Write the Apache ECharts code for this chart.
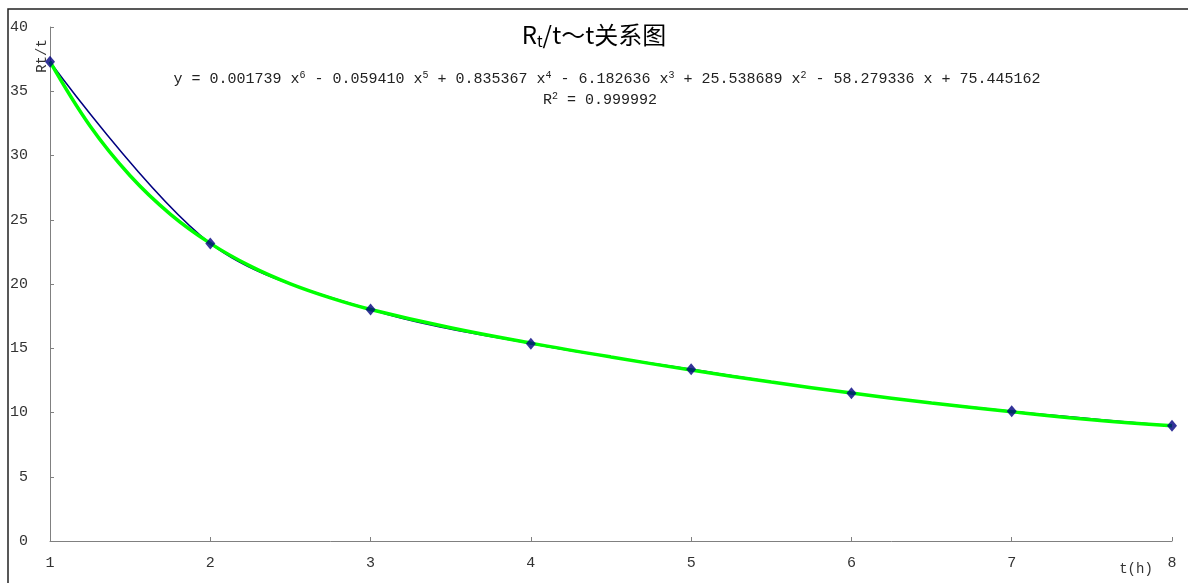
<!DOCTYPE html>
<html>
	<head>
		<meta charset="utf-8">
		<title>Rt/t~t</title>
		<style type="text/css">
			* {
				margin: 0;
				padding: 0;
			}

			html,
			body {
				width: 100%;
				height: 100%;
				background: #fff;
			}

			#box1 {
				width: 1188px;
				height: 583px;
			}
		</style>
	</head>
	<body>
		<div id="box1"></div>
		<script type="text/javascript" src="https://cdn.jsdelivr.net/npm/echarts@6/dist/echarts.min.js"></script>
		<script type="text/javascript">
			// measured points
			var tHours = [1, 2, 3, 4, 5, 6, 7, 8]
			var rtValues = [37.3, 23.16, 18.02, 15.35, 13.37, 11.5, 10.1, 8.97]

			// green trend line
			var trendT = [1, 1.25, 1.5, 1.75, 2, 2.25, 2.5, 2.75, 3, 3.5, 4, 4.5, 5, 5.5, 6, 6.5, 7, 7.5, 8]
			var trendValues = [37.3, 32.29, 28.42, 25.44, 23.16, 21.39, 20.01, 18.92, 18.02, 16.59, 15.4, 14.32, 13.31, 12.37, 11.51, 10.74, 10.05, 9.43, 8.96]

			var yTicks = [0, 5, 10, 15, 20, 25, 30, 35, 40]

			var monoFont = '"Liberation Mono", "DejaVu Sans Mono", monospace'
			var cjkFont = '"Noto Sans CJK SC", "Noto Sans", sans-serif'

			function pairs(xs, ys) {
				var out = []
				for (var i = 0; i < xs.length; i++) {
					out.push([xs[i], ys[i]])
				}
				return out
			}

			window.onload = function() {
				var myChart1 = echarts.init(document.getElementById('box1'))
				var option1 = {
					animation: false,
					backgroundColor: '#fff',
					title: {
						text: '{r|R}{s|t}{r|/t～t关系图}',
						left: 'center',
						top: 15,
						textStyle: {
							fontWeight: 'normal',
							rich: {
								r: {
									fontFamily: cjkFont,
									fontWeight: 'normal',
									fontSize: 24,
									color: '#000'
								},
								s: {
									fontFamily: cjkFont,
									fontWeight: 'normal',
									fontSize: 15,
									color: '#000',
									padding: [14, 0, 0, 0]
								}
							}
						}
					},
					grid: {
						left: 50,
						right: 16,
						top: 27,
						bottom: 42
					},
					xAxis: {
						type: 'value',
						min: 1,
						max: 8,
						interval: 1,
						axisLine: {
							lineStyle: {
								color: '#808080',
								width: 1
							}
						},
						axisTick: {
							inside: true,
							length: 4,
							lineStyle: {
								color: '#808080'
							}
						},
						splitLine: {
							show: false
						},
						axisLabel: {
							margin: 15,
							color: '#333',
							fontFamily: monoFont,
							fontSize: 15
						}
					},
					yAxis: {
						type: 'value',
						min: 0,
						max: 40,
						interval: 5,
						axisLine: {
							show: true,
							lineStyle: {
								color: '#808080',
								width: 1
							}
						},
						axisTick: {
							show: true,
							inside: true,
							length: 4,
							lineStyle: {
								color: '#808080'
							}
						},
						splitLine: {
							show: false
						},
						axisLabel: {
							margin: 22,
							color: '#333',
							fontFamily: monoFont,
							fontSize: 15,
							formatter: function(v) {
								return yTicks.indexOf(v) != -1 ? String(v) : ''
							}
						}
					},
					graphic: [{
							type: 'rect',
							shape: {
								x: 8,
								y: 9,
								width: 1300,
								height: 700
							},
							style: {
								fill: 'none',
								stroke: '#222',
								lineWidth: 1.5
							},
							z: -1
						},
						{
							type: 'text',
							x: 607,
							y: 79,
							style: {
								text: '{n|y = 0.001739 x}{s|6}{n| - 0.059410 x}{s|5}{n| + 0.835367 x}{s|4}{n| - 6.182636 x}{s|3}{n| + 25.538689 x}{s|2}{n| - 58.279336 x + 75.445162}',
								align: 'center',
								verticalAlign: 'middle',
								rich: {
									n: {
										fontFamily: monoFont,
										fontSize: 15,
										fill: '#222',
										lineHeight: 18
									},
									s: {
										fontFamily: monoFont,
										fontSize: 10,
										fill: '#222',
										verticalAlign: 'top',
										lineHeight: 18
									}
								}
							}
						},
						{
							type: 'text',
							x: 600,
							y: 100,
							style: {
								text: '{n|R}{s|2}{n| = 0.999992}',
								align: 'center',
								verticalAlign: 'middle',
								rich: {
									n: {
										fontFamily: monoFont,
										fontSize: 15,
										fill: '#222',
										lineHeight: 18
									},
									s: {
										fontFamily: monoFont,
										fontSize: 10,
										fill: '#222',
										verticalAlign: 'top',
										lineHeight: 18
									}
								}
							}
						},
						{
							type: 'text',
							x: 42,
							y: 56,
							rotation: Math.PI / 2,
							style: {
								text: 'Rt/t',
								align: 'center',
								verticalAlign: 'middle',
								font: '14px ' + monoFont,
								fill: '#333'
							}
						},
						{
							type: 'text',
							x: 1136,
							y: 569,
							style: {
								text: 't(h)',
								align: 'center',
								verticalAlign: 'middle',
								font: '14px ' + monoFont,
								fill: '#333'
							}
						}
					],
					series: [{
							name: 'Rt/t',
							type: 'line',
							smooth: 0.33,
							showSymbol: false,
							data: pairs(tHours, rtValues),
							lineStyle: {
								color: '#000080',
								width: 1.5
							},
							z: 2
						},
						{
							name: 'trend',
							type: 'line',
							smooth: 0.4,
							showSymbol: false,
							data: pairs(trendT, trendValues),
							lineStyle: {
								color: '#00ff00',
								width: 3.5
							},
							z: 3
						},
						{
							name: 'points',
							type: 'scatter',
							symbol: 'diamond',
							symbolSize: [10, 12],
							data: pairs(tHours, rtValues),
							itemStyle: {
								color: '#000080'
							},
							z: 4
						}
					]
				}
				myChart1.setOption(option1)
			}
		</script>
	</body>
</html>
